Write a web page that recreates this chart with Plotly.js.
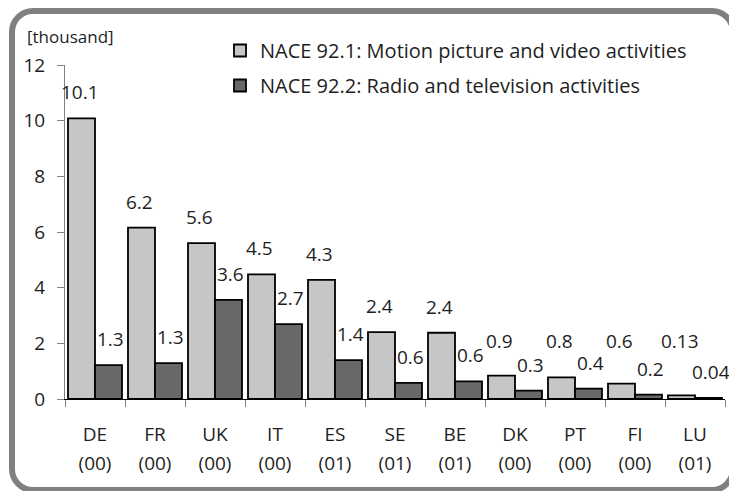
<!DOCTYPE html>
<html>
<head>
<meta charset="utf-8">
<script src="https://cdn.plot.ly/plotly-3.0.1.min.js"></script>
<style>
  html, body { margin: 0; padding: 0; background: #fff; }
  #wrap { position: relative; width: 729px; height: 491px; overflow: hidden; }
  #chart { position: absolute; left: 0; top: 0; width: 729px; height: 491px; }
  #frame { position: absolute; left: 9px; top: 8px; width: 727px; height: 485px;
           box-sizing: border-box; border: 6px solid #808080; border-radius: 24px; pointer-events: none; }
</style>
</head>
<body>
<div id="wrap">
  <div id="chart"></div>
  <div id="frame"></div>
</div>
<script>
// ---- data ----
const categories = ['DE', 'FR', 'UK', 'IT', 'ES', 'SE', 'BE', 'DK', 'PT', 'FI', 'LU'];
const refYears = ['(00)', '(00)', '(00)', '(00)', '(01)', '(01)', '(01)', '(00)', '(00)', '(00)', '(01)'];
const motionValues = [10.08, 6.16, 5.6, 4.48, 4.28, 2.4, 2.38, 0.84, 0.78, 0.55, 0.13];
const motionLabels = ['10.1', '6.2', '5.6', '4.5', '4.3', '2.4', '2.4', '0.9', '0.8', '0.6', '0.13'];
const radioValues = [1.22, 1.29, 3.56, 2.69, 1.4, 0.58, 0.63, 0.3, 0.37, 0.16, 0.04];
const radioLabels = ['1.3', '1.3', '3.6', '2.7', '1.4', '0.6', '0.6', '0.3', '0.4', '0.2', '0.04'];
const seriesNames = ['NACE 92.1: Motion picture and video activities', 'NACE 92.2: Radio and television activities'];
const yTicks = [0, 2, 4, 6, 8, 10, 12];
const unitLabel = '[thousand]';

// ---- layout constants ----
const W = 729, H = 491;
const M = { l: 65, r: 4, t: 65, b: 92 };
const FONT = '"Open Sans", "Noto Sans", sans-serif';
const TXT = '#1e1e1e';
const bargap = 0.1;
const plotW = W - M.l - M.r;
const plotH = H - M.t - M.b;
const barPx = plotW / categories.length * (1 - bargap) / 2;
const labelFloor = 1.15;   // light-series labels of very small bars sit no lower than this level
const xRange = [-0.5, categories.length - 0.5];

const traces = [
  { type: 'bar', name: seriesNames[0], x: categories, y: motionValues, legendgroup: 'a',
    marker: { color: '#c6c6c6', line: { color: '#000', width: 1.8 } }, hoverinfo: 'skip' },
  { type: 'bar', name: seriesNames[1], x: categories, y: radioValues, legendgroup: 'b',
    marker: { color: '#686868', line: { color: '#000', width: 1.8 } }, hoverinfo: 'skip' },
  // helper trace to bind the second label row axis
  { type: 'scatter', x: categories.map((c, i) => i), y: categories.map(() => 0), xaxis: 'x2', yaxis: 'y',
    mode: 'none', showlegend: false, hoverinfo: 'skip' }
];

const annotations = [];
categories.forEach((c, i) => {
  annotations.push({ x: c, y: Math.max(motionValues[i], labelFloor), text: motionLabels[i], showarrow: false,
    xref: 'x', yref: 'y', xanchor: 'center', yanchor: 'middle',
    xshift: -barPx / 2 - 2, yshift: 26, font: { family: FONT, size: 19, color: TXT } });
  annotations.push({ x: c, y: radioValues[i], text: radioLabels[i], showarrow: false,
    xref: 'x', yref: 'y', xanchor: 'center', yanchor: 'middle',
    xshift: barPx / 2 + 2, yshift: 26, font: { family: FONT, size: 19, color: TXT } });
});
annotations.push({ text: unitLabel, showarrow: false, xref: 'paper', yref: 'paper',
  x: (25 - M.l) / plotW, y: (H - M.b - 36) / plotH, xanchor: 'left', yanchor: 'middle',
  font: { family: FONT, size: 17, color: TXT } });

const layout = {
  width: W, height: H,
  margin: M,
  paper_bgcolor: '#fff', plot_bgcolor: '#fff',
  barmode: 'group', bargap: bargap, bargroupgap: 0,
  showlegend: true,
  legend: { x: (220 - M.l) / plotW, y: (H - M.b - 31) / plotH, xanchor: 'left', yanchor: 'top',
    bgcolor: 'rgba(0,0,0,0)', font: { family: FONT, size: 20, color: TXT },
    traceorder: 'grouped', tracegroupgap: 6 },
  font: { family: FONT, size: 19, color: TXT },
  xaxis: { type: 'category', range: xRange, autorange: false, tickvals: categories, ticktext: categories,
    tickson: 'boundaries', ticks: 'outside', ticklen: 7, tickcolor: '#808080', showline: true,
    linecolor: '#000', linewidth: 1, showgrid: false, zeroline: false,
    tickfont: { family: FONT, size: 19, color: TXT }, ticklabelstandoff: 18 },
  xaxis2: { overlaying: 'x', anchor: 'y', side: 'bottom', type: 'linear', range: xRange, autorange: false,
    tickvals: categories.map((c, i) => i), ticktext: refYears, ticks: '', showline: false, showgrid: false,
    zeroline: false, tickfont: { family: FONT, size: 19, color: TXT }, ticklabelstandoff: 51 },
  yaxis: { range: [0, 12], autorange: false, tickvals: yTicks, ticks: 'outside', ticklen: 7, tickcolor: '#808080',
    showline: true, linecolor: '#808080', linewidth: 1, showgrid: false, zeroline: false,
    tickfont: { family: FONT, size: 19, color: TXT }, ticklabelstandoff: 8 },
  annotations: annotations
};

Plotly.newPlot('chart', traces, layout, { staticPlot: true, displayModeBar: false });
</script>
</body>
</html>
